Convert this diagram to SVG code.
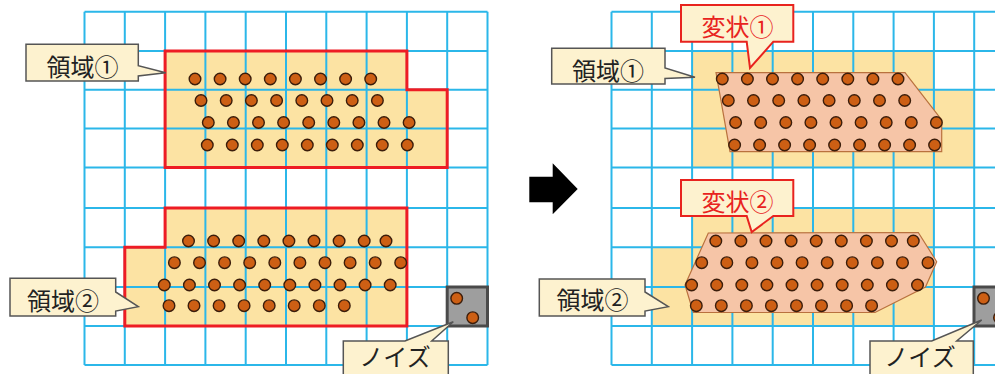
<svg xmlns="http://www.w3.org/2000/svg" xmlns:xlink="http://www.w3.org/1999/xlink" width="995" height="374" viewBox="0 0 995 374">
<style>
.gl{stroke:#2bb7e9;stroke-width:2;fill:none}
.yel{fill:#fce3a3;stroke:none}
.red{fill:none;stroke:#ee1c24;stroke-width:3;stroke-linejoin:miter}
.dot{fill:#cd5f14;stroke:#3b1d0b;stroke-width:1.4}
.sal{fill:#f6c5a7;stroke:#b9713e;stroke-width:1.2}
.nbox{fill:#9e9e9e;stroke:#4a4a4a;stroke-width:3}
.co{fill:#fdf2cf;stroke:#555;stroke-width:1.5}
.cor{fill:#fdf2cf;stroke:#e8231e;stroke-width:2}
.t{font-family:"Noto Sans CJK JP","Noto Sans",sans-serif;font-size:24px;fill:#222;text-anchor:middle}
.tr{font-family:"Noto Sans CJK JP","Noto Sans",sans-serif;font-size:24px;fill:#e8231e;text-anchor:middle}
</style>
<defs>
<g id="grid">
<path class="gl" d="M84.5,11.7V365M124.8,11.7V365M165.1,11.7V365M205.4,11.7V365M245.7,11.7V365M286,11.7V365M326.3,11.7V365M366.6,11.7V365M406.9,11.7V365M447.2,11.7V365M487.5,11.7V365"/>
<path class="gl" d="M84.5,11.7H487.5M84.5,51H487.5M84.5,89.8H487.5M84.5,128.5H487.5M84.5,167.5H487.5M84.5,208H487.5M84.5,247.2H487.5M84.5,287H487.5M84.5,326H487.5M84.5,365H487.5"/>
</g>
<polygon id="r1shape" points="165.1,51 406.9,51 406.9,89.8 447.2,89.8 447.2,167.5 165.1,167.5"/>
<polygon id="r2shape" points="165.1,208 406.9,208 406.9,326 124.8,326 124.8,247.2 165.1,247.2"/>
<g id="dots1" class="dot">
<circle cx="195" cy="79" r="5.8"/><circle cx="220.1" cy="79" r="5.8"/><circle cx="245.2" cy="79" r="5.8"/><circle cx="270.3" cy="79" r="5.8"/><circle cx="295.4" cy="79" r="5.8"/><circle cx="320.5" cy="79" r="5.8"/><circle cx="345.6" cy="79" r="5.8"/><circle cx="370.7" cy="79" r="5.8"/>
<circle cx="201" cy="100.5" r="5.8"/><circle cx="226.2" cy="100.5" r="5.8"/><circle cx="251.4" cy="100.5" r="5.8"/><circle cx="276.6" cy="100.5" r="5.8"/><circle cx="301.8" cy="100.5" r="5.8"/><circle cx="327" cy="100.5" r="5.8"/><circle cx="352.2" cy="100.5" r="5.8"/><circle cx="377.4" cy="100.5" r="5.8"/>
<circle cx="208.3" cy="122.5" r="5.8"/><circle cx="233.4" cy="122.5" r="5.8"/><circle cx="258.5" cy="122.5" r="5.8"/><circle cx="283.6" cy="122.5" r="5.8"/><circle cx="308.7" cy="122.5" r="5.8"/><circle cx="333.8" cy="122.5" r="5.8"/><circle cx="358.9" cy="122.5" r="5.8"/><circle cx="384" cy="122.5" r="5.8"/><circle cx="409.1" cy="122.5" r="5.8"/>
<circle cx="207.3" cy="145" r="5.8"/><circle cx="232.3" cy="145" r="5.8"/><circle cx="257.3" cy="145" r="5.8"/><circle cx="282.3" cy="145" r="5.8"/><circle cx="307.3" cy="145" r="5.8"/><circle cx="332.3" cy="145" r="5.8"/><circle cx="357.3" cy="145" r="5.8"/><circle cx="382.3" cy="145" r="5.8"/><circle cx="407.3" cy="145" r="5.8"/>
</g>
<g id="dots2" class="dot">
<circle cx="188.5" cy="241" r="5.8"/><circle cx="213.6" cy="241" r="5.8"/><circle cx="238.7" cy="241" r="5.8"/><circle cx="263.8" cy="241" r="5.8"/><circle cx="288.9" cy="241" r="5.8"/><circle cx="314" cy="241" r="5.8"/><circle cx="339.1" cy="241" r="5.8"/><circle cx="364.2" cy="241" r="5.8"/><circle cx="386" cy="241" r="5.8"/>
<circle cx="174.4" cy="262.7" r="5.8"/><circle cx="199.5" cy="262.7" r="5.8"/><circle cx="224.6" cy="262.7" r="5.8"/><circle cx="249.7" cy="262.7" r="5.8"/><circle cx="274.8" cy="262.7" r="5.8"/><circle cx="299.9" cy="262.7" r="5.8"/><circle cx="325" cy="262.7" r="5.8"/><circle cx="350.1" cy="262.7" r="5.8"/><circle cx="375.2" cy="262.7" r="5.8"/><circle cx="400.7" cy="262.7" r="5.8"/>
<circle cx="164.3" cy="285" r="5.8"/><circle cx="189.4" cy="285" r="5.8"/><circle cx="214.5" cy="285" r="5.8"/><circle cx="239.6" cy="285" r="5.8"/><circle cx="264.7" cy="285" r="5.8"/><circle cx="289.8" cy="285" r="5.8"/><circle cx="314.9" cy="285" r="5.8"/><circle cx="340" cy="285" r="5.8"/><circle cx="365.1" cy="285" r="5.8"/><circle cx="390.2" cy="285" r="5.8"/>
<circle cx="169" cy="305.7" r="5.8"/><circle cx="194" cy="305.7" r="5.8"/><circle cx="219.1" cy="305.7" r="5.8"/><circle cx="244.1" cy="305.7" r="5.8"/><circle cx="269.2" cy="305.7" r="5.8"/><circle cx="294.2" cy="305.7" r="5.8"/><circle cx="319.3" cy="305.7" r="5.8"/><circle cx="344.3" cy="305.7" r="5.8"/>
</g>
<g id="noise">
<rect class="nbox" x="447.2" y="287" width="40.3" height="39"/>
<circle class="dot" cx="456.7" cy="298.3" r="5.8"/>
<circle class="dot" cx="472.7" cy="317.7" r="5.8"/>
</g>
</defs>
<rect width="995" height="374" fill="#fff"/>

<!-- left panel -->
<g id="left-panel">
<use xlink:href="#r1shape" href="#r1shape" class="yel"/>
<use xlink:href="#r2shape" href="#r2shape" class="yel"/>
<use xlink:href="#grid" href="#grid"/>
<g id="region1-left"><use xlink:href="#r1shape" href="#r1shape" class="red"/><use xlink:href="#dots1" href="#dots1"/></g>
<g id="region2-left"><use xlink:href="#r2shape" href="#r2shape" class="red"/><use xlink:href="#dots2" href="#dots2"/></g>
<g id="noise-left"><use xlink:href="#noise" href="#noise"/></g>
</g>

<!-- arrow -->
<g id="arrow">
<polygon points="529.3,176.7 552.7,176.7 552.7,163.3 577.7,189 552.7,214.3 552.7,202.3 529.3,202.3" fill="#000"/>
</g>

<!-- right panel -->
<g id="right-panel">
<g transform="translate(527,0)">
<use xlink:href="#r1shape" href="#r1shape" class="yel"/>
<use xlink:href="#r2shape" href="#r2shape" class="yel"/>
<use xlink:href="#grid" href="#grid"/>
</g>
<g id="deform1"><polygon class="sal" points="716,72.7 905,72.7 941.7,120 941.7,151.7 730,151.7"/><use xlink:href="#dots1" href="#dots1" x="527.3"/></g>
<g id="deform2"><polygon class="sal" points="708.3,233 918.3,232.5 936.7,261.7 925.5,287 875,312.5 693.3,312.5 685,285"/><use xlink:href="#dots2" href="#dots2" x="527.3"/></g>
<g id="noise-right"><use xlink:href="#noise" href="#noise" x="526.8"/></g>
</g>

<!-- callouts -->
<g id="connectors"></g>
<g id="label-region1-left">
<path class="co" d="M26,44.3H138.3V65.7L165.7,72.7L138.3,76V81H26Z"/>
<text class="t" x="82.5" y="76">領域①</text>
</g>
<g id="label-region2-left">
<path class="co" d="M10,278.3H115.7V292L138.3,306.7L115.7,311V316H10Z"/>
<text class="t" x="63" y="309.5">領域②</text>
</g>
<g id="label-noise-left">
<path class="co" d="M343.3,341H405L453.3,321.7L431.7,341H448.3V380H343.3Z"/>
<text class="t" x="395" y="366">ノイズ</text>
</g>
<g id="label-region1-right">
<path class="co" d="M551.7,48.3H665V68L695,77.3L665,78.5V84H551.7Z"/>
<text class="t" x="608" y="79.5">領域①</text>
</g>
<g id="label-region2-right">
<path class="co" d="M539.3,279H645V292L668.3,306.7L645,311V316H539.3Z"/>
<text class="t" x="592.5" y="309">領域②</text>
</g>
<g id="label-noise-right">
<path class="co" d="M870,341H931.7L981.7,320L956.7,341H973.3V380H870Z"/>
<text class="t" x="920" y="366">ノイズ</text>
</g>
<g id="label-deform1">
<path class="cor" d="M681,5H793.3V41.7H773.3L750,68L746.7,41.7H681Z"/>
<text class="tr" x="737.5" y="36">変状①</text>
</g>
<g id="label-deform2">
<path class="cor" d="M681,180H793.3V216H773.3L751.7,232L746.7,216H681Z"/>
<text class="tr" x="737.5" y="211">変状②</text>
</g>
</svg>
